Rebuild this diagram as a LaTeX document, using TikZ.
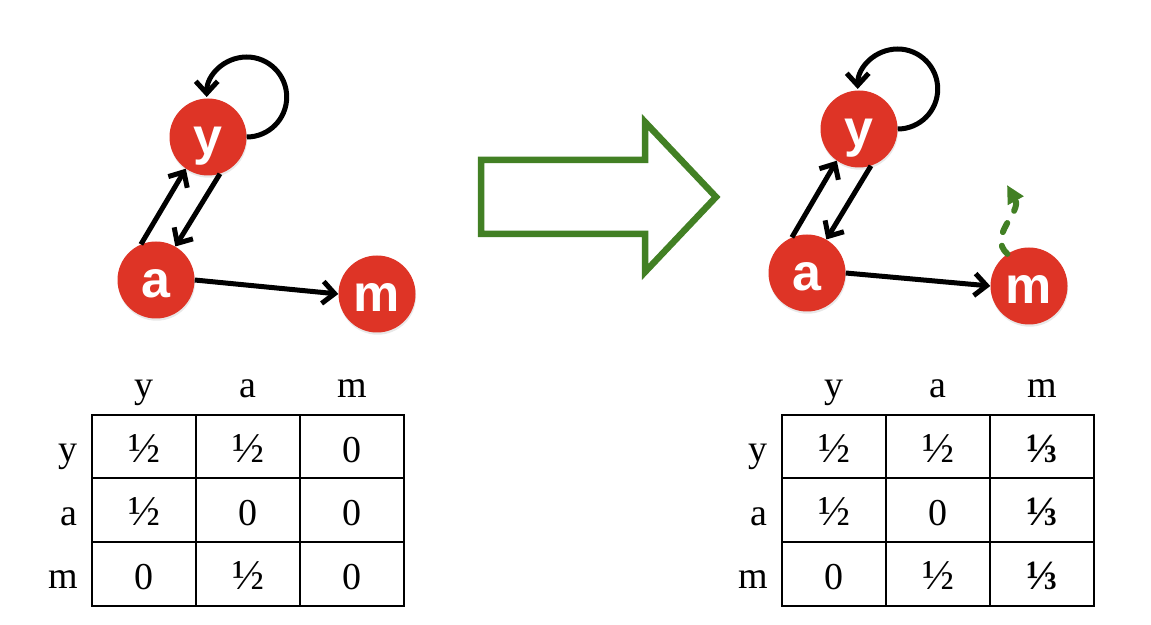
\documentclass[tikz,border=0pt]{standalone}
\usepackage{fontspec}
\setmainfont{Liberation Serif}
\newfontfamily\vertfont{Liberation Sans}
\usetikzlibrary{arrows.meta, shadows}
\definecolor{vertred}{RGB}{222,52,38}
\definecolor{fixgreen}{RGB}{66,128,36}
\newcommand{\half}{\scalebox{1.12}{½}}

\begin{document}
\begin{tikzpicture}[x=1pt, y=1pt,
  vert/.style={circle, fill=vertred, minimum size=77pt, inner sep=0pt, text=white,
               font=\vertfont\bfseries\fontsize{52}{52}\selectfont,
               text height=35pt, text depth=0pt,
               drop shadow={shadow xshift=0.6pt, shadow yshift=-2.2pt, opacity=0.18}},
  arr/.style={line width=5pt, -{Straight Barb[length=12pt, width=22pt]}},
  garr/.style={fixgreen, line width=6pt, line cap=round, dash pattern=on 10pt off 14pt,
               -{Triangle[length=18pt, width=17pt]}},
  cell/.style={draw, line width=2pt, minimum width=104pt, minimum height=63.5pt,
               inner sep=0pt, text height=31pt, text depth=0pt,
               font=\fontsize{38}{40}\selectfont},
  lbl/.style={inner sep=0pt, font=\fontsize{38}{40}\selectfont}]
  \useasboundingbox (0,0) rectangle (1151,624);

  % graph before
  \node[vert] (y) at (208,487) {y};
  \node[vert] (a) at (156,344) {a};
  \node[vert] (m) at (377,330) {m};
  \draw[arr] (a.113) -- (y.235);
  \draw[arr] (y.288) -- (a.60);
  \draw[arr] (a.east) -- (m.west);
  \draw[arr] (y.east) arc[start angle=-90, end angle=180, radius=40pt];

  % big arrow
  \draw[fixgreen, line width=6.5pt] (481,464) -- (645,464) -- (645,502) -- (716,427)
    -- (645,352) -- (645,390) -- (481,390) -- cycle;

  % graph after
  \node[vert] (y2) at (859,495) {y};
  \node[vert] (a2) at (807,351) {a};
  \node[vert] (m2) at (1029,338) {m};
  \draw[arr] (a2.113) -- (y2.235);
  \draw[arr] (y2.288) -- (a2.60);
  \draw[arr] (a2.east) -- (m2.west);
  \draw[arr] (y2.east) arc[start angle=-90, end angle=180, radius=40pt];
  \coordinate (tele) at (1007,439);
  \draw[garr] (m2.124) .. controls +(-20,18) and +(15,-27) .. (tele);

  % matrix before
  \foreach \col/\name in {1/y, 2/a, 3/m}
    \node[lbl, anchor=base] (Lh\col) at ({40+104*\col}, 226) {\name};
  \foreach \row/\name in {1/y, 2/a, 3/m}
    \node[lbl, anchor=base east] (Lr\row) at (78, {240.75-63.5*\row-15}) {\name};
  \foreach \row/\col/\val in {1/1/\half, 1/2/\half, 1/3/0, 2/1/\half, 2/2/0, 2/3/0, 3/1/0, 3/2/\half, 3/3/0}
    \node[cell] (L\row\col) at ({40+104*\col}, {240.75-63.5*\row}) {\val};

  % matrix after
  \foreach \col/\name in {1/y, 2/a, 3/m}
    \node[lbl, anchor=base] (Rh\col) at ({730+104*\col}, 226) {\name};
  \foreach \row/\name in {1/y, 2/a, 3/m}
    \node[lbl, anchor=base east] (Rr\row) at (768, {240.75-63.5*\row-15}) {\name};
  \foreach \row/\col/\val in {1/1/\half, 1/2/\half, 2/1/\half, 2/2/0, 3/1/0, 3/2/\half}
    \node[cell] (R\row\col) at ({730+104*\col}, {240.75-63.5*\row}) {\val};
  \foreach \row in {1,2,3}
    \node[cell, font=\fontsize{38}{40}\selectfont\bfseries] (R\row3) at (1042, {240.75-63.5*\row}) {\scalebox{1.1}{⅓}};
\end{tikzpicture}
\end{document}
